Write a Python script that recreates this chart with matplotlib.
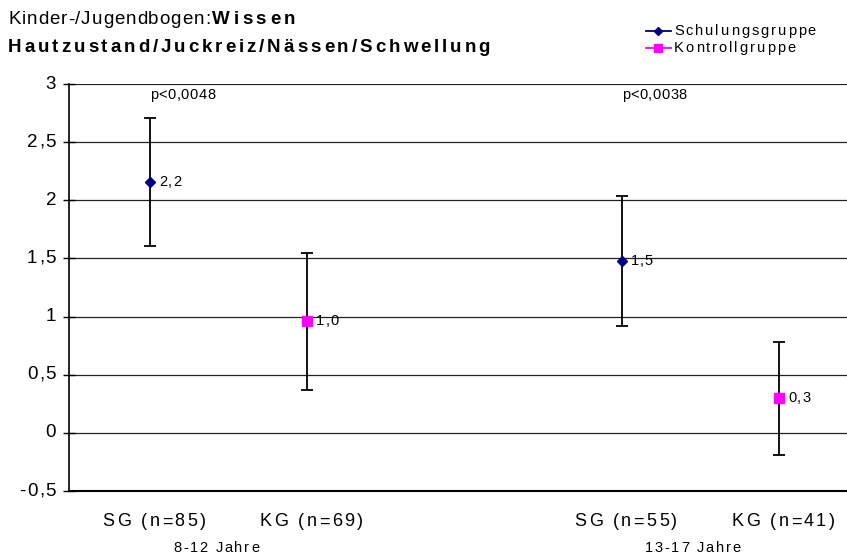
import matplotlib
matplotlib.use("Agg")
import matplotlib.pyplot as plt
from matplotlib.lines import Line2D
from matplotlib.font_manager import FontProperties

FAM = ['Liberation Sans', 'DejaVu Sans']
plt.rcParams['font.family'] = FAM

# Data
positions = [0, 1, 3, 4]
tick_labels = ["SG (n=85)", "KG (n=69)", "SG (n=55)", "KG (n=41)"]
groups = ["8-12 Jahre", "13-17 Jahre"]
group_centers = [0.42, 3.45]
means = [2.16, 0.96, 1.48, 0.30]
err_lower = [0.55, 0.59, 0.56, 0.49]
err_upper = [0.55, 0.59, 0.56, 0.48]
value_labels = ["2,2", "1,0", "1,5", "0,3"]
series = ["Schulungsgruppe", "Kontrollgruppe", "Schulungsgruppe", "Kontrollgruppe"]
legend_labels = ["Schulungsgruppe", "Kontrollgruppe"]
p_labels = ["p<0,0048", "p<0,0038"]
p_positions = [0, 3]
yticks = [-0.5, 0, 0.5, 1, 1.5, 2, 2.5, 3]
ytick_labels = ["-0,5", "0", "0,5", "1", "1,5", "2", "2,5", "3"]

colors = {"Schulungsgruppe": "#000080", "Kontrollgruppe": "#FF00FF"}
markers = {"Schulungsgruppe": "D", "Kontrollgruppe": "s"}
msizes = {"Schulungsgruppe": 5, "Kontrollgruppe": 6.5}

W, H = 847, 558
fig = plt.figure(figsize=(W / 100, H / 100), dpi=100)
AX_L, AX_T, AX_B = 69, 84, 491
ax = fig.add_axes([AX_L / W, 1 - AX_B / H, (W - AX_L) / W, (AX_B - AX_T) / H])
renderer = fig.canvas.get_renderer()


def text_w(s, fp):
    return renderer.get_text_width_height_descent(s, fp, ismath=False)[0]


def adv(c, fp):
    return text_w("x" + c + "x", fp) - text_w("xx", fp)


def tracked(x, y, s, size, weight='normal', track=None, target=None, ha='left',
            va='center', color='black'):
    """Draw text with letter spacing; x, y in pixels from top-left."""
    fp = FontProperties(family=FAM, size=size, weight=weight)
    ws = [adv(c, fp) for c in s]
    nat = sum(ws)
    if target is not None:
        track = (target - nat) / max(len(s) - 1, 1)
    track = track or 0
    total = nat + track * (len(s) - 1)
    x0 = x if ha == 'left' else (x - total / 2 if ha == 'center' else x - total)
    cur = x0
    for c, w in zip(s, ws):
        fig.text(cur / W, 1 - y / H, c, fontproperties=fp, ha='left', va=va, color=color)
        cur += w + track
    return track


def to_px(xd, yd):
    px, py = ax.transData.transform((xd, yd))
    return px, H - py


ax.set_ylim(-0.5, 3)
ax.set_xlim((AX_L - 150) / 157.25, (W - 150) / 157.25)

for i in range(4):
    s = series[i]
    ax.errorbar(positions[i], means[i], yerr=[[err_lower[i]], [err_upper[i]]],
                fmt='none', ecolor='black', elinewidth=1.3, capsize=4, capthick=1.3, zorder=3)
    ax.plot(positions[i], means[i], marker=markers[s], color=colors[s],
            markersize=msizes[s], linestyle='none', zorder=4)

ax.set_yticks(yticks)
ax.set_yticklabels([])
for v in yticks[1:]:
    ax.axhline(v, color='#222222', linewidth=0.9, zorder=1)
ax.set_xticks(positions)
ax.set_xticklabels([])
ax.tick_params(axis='x', length=0)
ax.tick_params(axis='y', length=9, width=1, direction='inout')
for sp in ['top', 'right']:
    ax.spines[sp].set_visible(False)
ax.spines['left'].set_linewidth(1.2)
ax.spines['bottom'].set_linewidth(1.5)

# y tick labels
for v, lab in zip(yticks, ytick_labels):
    _, py = to_px(0, v)
    tracked(56, py, lab, 13.5, track=1.5, ha='right')

# x tick labels
trk = None
for p, lab in zip(positions, tick_labels):
    px, _ = to_px(p, 0)
    if trk is None:
        trk = tracked(px + 4, 522, lab, 13, target=103, ha='center')
    else:
        tracked(px + 4, 522, lab, 13, track=trk, ha='center')

# group labels
trk = None
for g, c in zip(groups, group_centers):
    px, _ = to_px(c, 0)
    if trk is None:
        trk = tracked(px, 548, g, 10.5, target=86, ha='center')
    else:
        tracked(px, 548, g, 10.5, track=trk, ha='center')

# p values
trk = None
for lab, p in zip(p_labels, p_positions):
    px, _ = to_px(p, 0)
    if trk is None:
        trk = tracked(px, 95, lab, 10.5, target=65)
    else:
        tracked(px, 95, lab, 10.5, track=trk)

# data labels
trk = None
for p, m, lab in zip(positions, means, value_labels):
    px, py = to_px(p, m)
    if trk is None:
        trk = tracked(px + 9, py, lab, 10.5, target=22)
    else:
        tracked(px + 9, py, lab, 10.5, track=trk)

# title
tracked(8, 20, "Kinder-/Jugendbogen:", 13.5, target=202)
tracked(212, 20, "Wissen", 13.5, weight='bold', target=83)
tracked(8, 47, "Hautzustand/Juckreiz/Nässen/Schwellung", 13.5, weight='bold', target=482)

# legend
leg_y = [31, 48]
trk = None
for lab, ly in zip(legend_labels, leg_y):
    ln = Line2D([646 / W, 658 / W, 671 / W], [1 - ly / H] * 3, transform=fig.transFigure,
                color=colors[lab], linewidth=1.3, marker=markers[lab], markevery=[1],
                markersize=msizes[lab] - 0.5)
    fig.add_artist(ln)
    if trk is None:
        trk = tracked(674, ly, lab, 10.5, target=142)
    else:
        tracked(674, ly, lab, 10.5, track=trk)

fig.savefig("out.png", dpi=100)
